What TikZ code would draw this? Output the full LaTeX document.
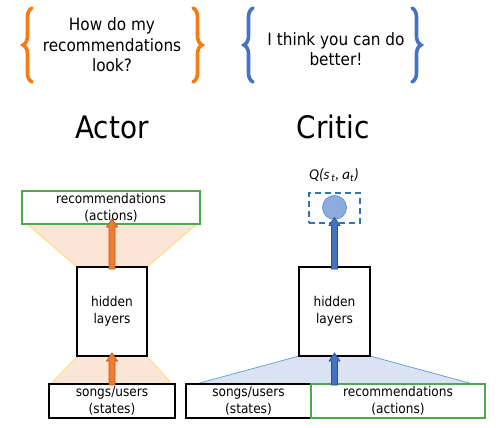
\documentclass[tikz,border=0pt]{standalone}
\usepackage{fontspec}
\setmainfont{DejaVu Sans Condensed}
\newfontfamily\carlito{Carlito}
\usetikzlibrary{decorations.pathreplacing,arrows.meta,calc}
\definecolor{braceor}{HTML}{F97A12}
\definecolor{bracebl}{HTML}{4472C4}
\definecolor{fillor}{HTML}{FBE5D6}
\definecolor{edgeor}{HTML}{FFD966}
\definecolor{fillbl}{HTML}{DAE3F3}
\definecolor{edgebl}{HTML}{5B9BD5}
\definecolor{arrowor}{HTML}{ED7D31}
\definecolor{arrowordk}{HTML}{C55A11}
\definecolor{arrowbl}{HTML}{4472C4}
\definecolor{arrowbldk}{HTML}{2F528F}
\definecolor{boxgreen}{HTML}{4EA94B}
\definecolor{dashbl}{HTML}{2E75B6}
\definecolor{circfill}{HTML}{8FAADC}
\tikzset{
  curly/.style={decorate,decoration={brace,amplitude=9pt},line width=3.6pt,line cap=round},
  bigq/.style={align=center,font=\fontsize{17}{20.5}\selectfont},
  title/.style={font=\fontsize{31}{36}\selectfont},
  blackbox/.style={draw=black,line width=2pt,fill=white,align=center,inner sep=0pt,font=\fontsize{13.5}{17}\selectfont},
  greenbox/.style={draw=boxgreen,line width=2pt,fill=white,align=center,inner sep=0pt,font=\fontsize{13.5}{17}\selectfont},
  oarrow/.style={fill=arrowor,draw=arrowordk,line width=0.7pt},
  barrow/.style={fill=arrowbl,draw=arrowbldk,line width=0.7pt},
}
% block arrow pointing up: #1 style, #2 start (bottom), #3 tip (top)
\newcommand\blockup[3]{%
  \path let \p1=(#2), \p2=(#3) in
    [#1] (\x1-3pt,\y1) -- (\x1+3pt,\y1) -- (\x1+3pt,\y2-8pt) -- (\x1+5.5pt,\y2-8pt)
    -- (\x1,\y2) -- (\x1-5.5pt,\y2-8pt) -- (\x1-3pt,\y2-8pt) -- cycle;}
\begin{document}
\begin{tikzpicture}[x=1pt,y=-1pt]
\useasboundingbox (0,0) rectangle (504,428);
% braces
\draw[curly,braceor] (32,82) -- (32,8);
\draw[curly,braceor] (193,8) -- (193,82);
\draw[curly,bracebl] (253,82) -- (253,8);
\draw[curly,bracebl] (412,8) -- (412,82);
\node[bigq] (qa) at (112,45) {How do my\\recommendations\\look?};
\node[bigq] (qc) at (336,49) {I think you can do\\better!};
\node[title] (actor) at (112,127) {Actor};
\node[title] (critic) at (333,127) {Critic};
% trapezoids actor
\fill[fillor] (27,224) -- (197,224) -- (147,267) -- (77,267) -- cycle;
\draw[edgeor,line width=0.7pt] (27,224) -- (77,267) (197,224) -- (147,267);
\fill[fillor] (77,356) -- (147,356) -- (172,384) -- (51,384) -- cycle;
\draw[edgeor,line width=0.7pt] (77,356) -- (51,384) (147,356) -- (172,384);
% Critic trapezoid
\fill[fillbl] (299,356) -- (370,356) -- (473,384) -- (196,384) -- cycle;
\draw[edgebl,line width=0.7pt] (299,356) -- (196,384) (370,356) -- (473,384);
% Actor boxes
\node[greenbox,minimum width=178pt,minimum height=33pt] (recA) at (111,207.5) {recommendations\\(actions)};
\node[blackbox,minimum width=70pt,minimum height=89pt] (hA) at (112,311.5) {hidden\\layers};
\node[blackbox,minimum width=126pt,minimum height=34pt] (sA) at (112,401) {songs/users\\(states)};
% Critic boxes
\node[font=\carlito\itshape\fontsize{15}{17}\selectfont] (ql) at (334,175) {Q(s\textsubscript{\,t}, a\textsubscript{t})};
\node[draw=dashbl,line width=2pt,dash pattern=on 6pt off 4pt,minimum width=51pt,minimum height=30pt,inner sep=0pt] (qbox) at (334.5,207.5) {};
\node[circle,draw=edgebl,fill=circfill,line width=0.8pt,minimum size=24pt,inner sep=0pt] (qc1) at (qbox.center) {};
\node[blackbox,minimum width=71pt,minimum height=89pt] (hC) at (334.5,311.5) {hidden\\layers};
\node[blackbox,minimum width=125pt,minimum height=34pt] (sC) at (248.5,401) {songs/users\\(states)};
\node[greenbox,minimum width=174pt,minimum height=34pt] (rC) at (398,401) {recommendations\\(actions)};
% arrows
\blockup{oarrow}{[yshift=-3pt]hA.north}{[yshift=6pt]recA.south}
\blockup{oarrow}{[yshift=-2pt]sA.north}{[yshift=4pt]hA.south}
\blockup{barrow}{[yshift=-3pt]hC.north}{[yshift=6pt]qbox.south}
\blockup{barrow}{[yshift=-2pt]hC.south |- sC.north}{[yshift=4pt]hC.south}
\end{tikzpicture}
\end{document}
